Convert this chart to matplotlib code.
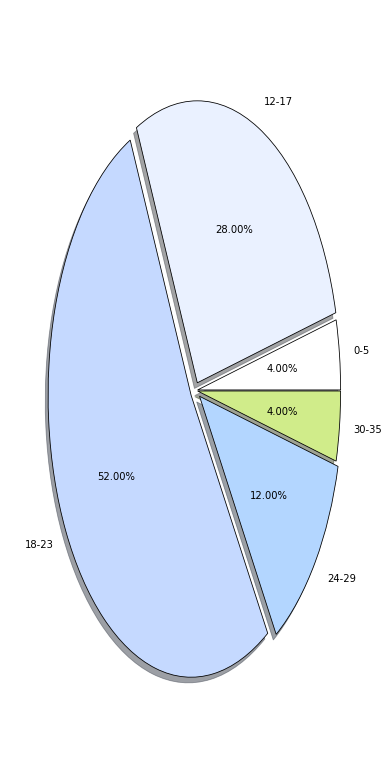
import matplotlib
matplotlib.use("Agg")
import matplotlib.pyplot as plt

# age groups and their share
labels = ['0-5', '12-17', '18-23', '24-29', '30-35']
shares = [4, 28, 52, 12, 4]
colors = ['#ffffff', '#eaf1ff', '#c5d9ff', '#b3d6ff', '#d0ec8a']
explode = [0.015, 0.03, 0.035, 0.035, 0.015]

fig = plt.figure(figsize=(390 / 72, 780 / 72), dpi=72)
ax = fig.add_axes([0.0429, 0.0475, 0.9167, 0.9038])

ax.pie(shares, labels=labels, colors=colors, explode=explode,
       autopct='%.2f%%', shadow=True,
       wedgeprops={'edgecolor': 'black', 'linewidth': 0.8})

# stretch the pie to fill the tall figure
ax.set_aspect('auto')

fig.savefig("out.png", dpi=72)
